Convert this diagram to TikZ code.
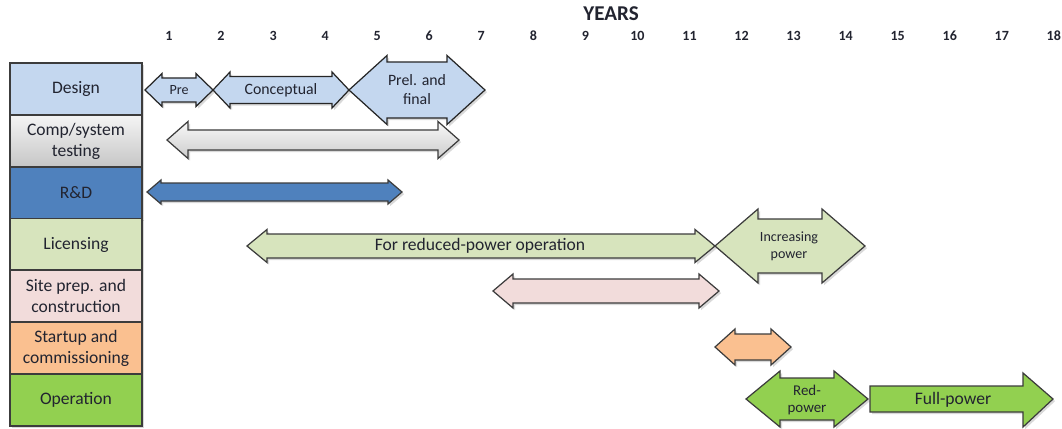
\documentclass[tikz,border=0pt]{standalone}
\usepackage{fontspec}
\setmainfont{Carlito}
\usepackage{xcolor}
\usepackage{tikz}
\usetikzlibrary{shadows}
\definecolor{txtdark}{RGB}{34,36,48}
\definecolor{edgegray}{RGB}{60,60,60}
\definecolor{dblue}{RGB}{196,215,239}
\definecolor{rdblue}{RGB}{79,129,189}
\definecolor{lgreen}{RGB}{215,228,189}
\definecolor{lpink}{RGB}{242,220,219}
\definecolor{lorange}{RGB}{250,192,144}
\definecolor{ogreen}{RGB}{146,208,80}

% double block arrow: left tip, right tip, mid y, head half, shaft half, head length, style
\newcommand{\dblarrow}[7]{%
  \draw[blockarrow, #7] (#1,#3) -- (#1+#6,#3-#4) -- (#1+#6,#3-#5) -- (#2-#6,#3-#5)
    -- (#2-#6,#3-#4) -- (#2,#3) -- (#2-#6,#3+#4) -- (#2-#6,#3+#5)
    -- (#1+#6,#3+#5) -- (#1+#6,#3+#4) -- cycle;}

\begin{document}
\begin{tikzpicture}[x=0.02cm, y=-0.02cm,
    every node/.style={text=txtdark, font=\fontsize{10}{12}\selectfont},
    rowbox/.style={draw=edgegray, line width=0.9pt, minimum width=2.64cm, minimum height=1.04cm,
      align=center, inner sep=0pt, drop shadow={shadow xshift=1pt, shadow yshift=-1pt, opacity=0.3}},
    blockarrow/.style={draw=edgegray, line width=0.7pt, line join=miter,
      drop shadow={shadow xshift=1.2pt, shadow yshift=-1.2pt, opacity=0.3}},
    yearlbl/.style={font=\fontsize{8}{10}\selectfont\bfseries},
    barlbl/.style={align=center, font=\fontsize{9}{10.5}\selectfont}]
  \useasboundingbox (0,0) rectangle (1062,429);

  % Year scale
  \node[font=\fontsize{12}{14}\selectfont\bfseries] (years) at (611,14) {YEARS};
  \foreach \n in {1,...,18} {
    \node[yearlbl] (yr\n) at ({169+52.05*(\n-1)},36) {\n};
  }

  % Activity rows
  \node[rowbox, fill=dblue] (design) at (76,89) {Design};
  \node[rowbox, top color=white!92!gray, bottom color=gray!45] (testing) at (76,141) {Comp/system\\testing};
  \node[rowbox, fill=rdblue] (rnd) at (76,193) {R\&D};
  \node[rowbox, fill=lgreen] (licensing) at (76,244.5) {Licensing};
  \node[rowbox, fill=lpink] (site) at (76,296) {Site prep. and\\construction};
  \node[rowbox, fill=lorange] (startup) at (76,348) {Startup and\\commissioning};
  \node[rowbox, fill=ogreen] (operation) at (76,400) {Operation};

  % Design phases
  \dblarrow{145}{213}{90}{16.5}{12}{17}{fill=dblue, draw=black!85}
  \dblarrow{213}{349}{90}{18}{13.5}{17}{fill=dblue, draw=black!85}
  \dblarrow{349}{485}{90}{34.5}{28}{38}{fill=dblue, draw=black!85}
  \node[barlbl, font=\fontsize{8}{10}\selectfont] (pre) at (179,90) {Pre};
  \node[barlbl] (concept) at (281,90) {Conceptual};
  \node[barlbl] (prelfinal) at (417,89.5) {Prel. and\\final};

  % Testing and R&D
  \dblarrow{167}{459}{140}{18.5}{10}{21}{top color=white!95!gray, bottom color=gray!40}
  \dblarrow{147}{402}{192}{12}{9}{14}{fill=rdblue}

  % Licensing
  \dblarrow{247}{715}{246}{16.5}{12}{20}{fill=lgreen}
  \dblarrow{715}{865}{246}{37}{27}{43}{fill=lgreen}
  \node[barlbl, font=\fontsize{10}{12}\selectfont] (reduced) at (480,246) {For reduced-power operation};
  \node[barlbl, font=\fontsize{8}{9.5}\selectfont] (increasing) at (789,246.5) {Increasing\\power};

  % Construction and startup
  \dblarrow{493}{719}{291}{17}{12}{20}{fill=lpink}
  \dblarrow{715}{791}{347}{18}{13}{20}{fill=lorange}

  % Operation
  \dblarrow{746}{868}{399}{28}{21}{34}{fill=ogreen}
  \draw[blockarrow, fill=ogreen] (870,386) -- (1023,386) -- (1023,373) -- (1053,399)
    -- (1023,427) -- (1023,412) -- (870,412) -- cycle;
  \node[barlbl, font=\fontsize{8.5}{10}\selectfont] (redpower) at (807,400) {Red-\\power};
  \node[barlbl, font=\fontsize{10}{12}\selectfont] (fullpower) at (953,399.5) {Full-power};
\end{tikzpicture}
\end{document}
